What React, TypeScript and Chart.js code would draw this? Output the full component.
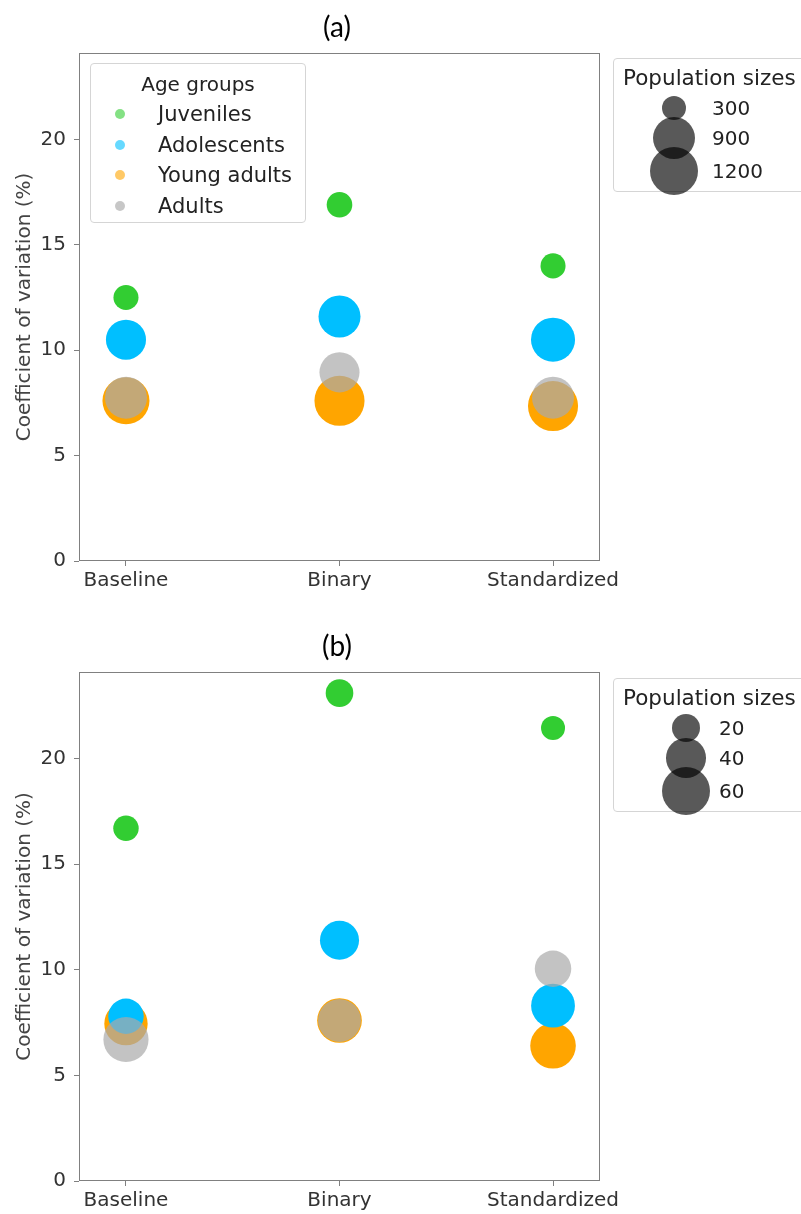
import React, { useEffect, useRef } from "react";
import { Chart, registerables } from "chart.js";
Chart.register(...registerables);

// ---------- data ----------
const methods = ["Baseline", "Binary", "Standardized"];
const ageGroups = ["Juveniles", "Adolescents", "Young adults", "Adults"];
const yTickValues = [0, 5, 10, 15, 20];

// Panel (a): coefficient of variation (%) per method
const cvA_juveniles = [12.5, 16.9, 14.0];
const cvA_adolescents = [10.5, 11.6, 10.5];
const cvA_youngAdults = [7.6, 7.6, 7.35];
const cvA_adults = [7.75, 8.95, 7.75];
// Panel (a): population sizes per method
const popA_juveniles = [320, 335, 320];
const popA_adolescents = [820, 900, 990];
const popA_youngAdults = [1130, 1280, 1280];
const popA_adults = [900, 820, 900];
const sizeLegendA = [300, 900, 1200];

// Panel (b)
const cvB_juveniles = [16.7, 23.1, 21.45];
const cvB_adolescents = [7.8, 11.4, 8.3];
const cvB_youngAdults = [7.45, 7.6, 6.4];
const cvB_adults = [6.7, 7.6, 10.05];
const popB_juveniles = [16.5, 19.5, 14.7];
const popB_adolescents = [32, 39, 49];
const popB_youngAdults = [48, 51, 53];
const popB_adults = [52, 47, 34];
const sizeLegendB = [20, 40, 60];

const groupColors = ["rgb(50,205,50)", "rgb(0,191,255)", "rgb(255,165,0)", "rgba(169,169,169,0.7)"];
const legendColors = ["rgba(50,205,50,0.6)", "rgba(0,191,255,0.6)", "rgba(255,165,0,0.6)", "rgba(169,169,169,0.65)"];
const drawOrder = [3, 1, 2, 0]; // higher drawn first

const FONT = "'DejaVu Sans', sans-serif";

const framePlugin = {
  id: "frame",
  afterDatasetsDraw(chart: any) {
    const { ctx, chartArea } = chart;
    const l = Math.round(chartArea.left) + 0.5;
    const t = Math.round(chartArea.top) + 0.5;
    const r = Math.round(chartArea.right) - 0.5;
    const b = Math.round(chartArea.bottom) - 0.5;
    ctx.save();
    ctx.strokeStyle = "#808080";
    ctx.lineWidth = 1;
    ctx.strokeRect(l, t, r - l, b - t);
    ctx.restore();
  },
};

type PanelCfg = {
  label: string;
  top: number;
  height: number;
  padTop: number;
  xAxisH: number;
  cv: number[][];
  pop: number[][];
  k: number;
  sizeLegend: number[];
  sizeBoxTop: number;
  sizeCircleX: number;
  sizeLabelX: number;
  showAgeLegend: boolean;
};

const panels: PanelCfg[] = [
  {
    label: "(a)",
    top: 0,
    height: 605,
    padTop: 53,
    xAxisH: 44,
    cv: [cvA_juveniles, cvA_adolescents, cvA_youngAdults, cvA_adults],
    pop: [popA_juveniles, popA_adolescents, popA_youngAdults, popA_adults],
    k: 0.7,
    sizeLegend: sizeLegendA,
    sizeBoxTop: 58,
    sizeCircleX: 60,
    sizeLabelX: 98,
    showAgeLegend: true,
  },
  {
    label: "(b)",
    top: 619,
    height: 595,
    padTop: 53,
    xAxisH: 33,
    cv: [cvB_juveniles, cvB_adolescents, cvB_youngAdults, cvB_adults],
    pop: [popB_juveniles, popB_adolescents, popB_youngAdults, popB_adults],
    k: 3.13,
    sizeLegend: sizeLegendB,
    sizeBoxTop: 59,
    sizeCircleX: 72,
    sizeLabelX: 105,
    showAgeLegend: false,
  },
];

function Panel({ cfg }: { cfg: PanelCfg }) {
  const ref = useRef<HTMLCanvasElement | null>(null);
  useEffect(() => {
    if (!ref.current) return;
    const datasets = ageGroups.map((g, gi) => ({
      label: g,
      data: methods.map((_, mi) => ({
        x: mi,
        y: cfg.cv[gi][mi],
        r: cfg.k * Math.sqrt(cfg.pop[gi][mi]),
      })),
      backgroundColor: groupColors[gi],
      borderWidth: 0,
      hoverRadius: 0,
      order: drawOrder[gi],
    }));
    const chart = new Chart(ref.current, {
      type: "bubble",
      data: { datasets },
      plugins: [framePlugin],
      options: {
        animation: false,
        responsive: false,
        events: [],
        layout: { padding: { top: cfg.padTop, left: 0, right: 201, bottom: 0 } },
        plugins: { legend: { display: false }, tooltip: { enabled: false }, title: { display: false } },
        scales: {
          x: {
            type: "linear",
            min: -0.22,
            max: 2.22,
            afterBuildTicks: (s: any) => {
              s.ticks = methods.map((_, i) => ({ value: i }));
            },
            afterFit: (s: any) => {
              s.height = cfg.xAxisH;
            },
            ticks: {
              callback: (v: any) => methods[v as number] ?? "",
              font: { family: FONT, size: 20 },
              color: "#333",
              padding: 3,
              maxRotation: 0,
              autoSkip: false,
            },
            grid: { display: true, drawOnChartArea: false, drawTicks: true, tickLength: 5, color: "#808080" },
            border: { display: false },
          },
          y: {
            type: "linear",
            min: 0,
            max: 24.1,
            afterBuildTicks: (s: any) => {
              s.ticks = yTickValues.map((v) => ({ value: v }));
            },
            afterFit: (s: any) => {
              s.width = 79;
            },
            ticks: { font: { family: FONT, size: 20 }, color: "#333", padding: 8 },
            grid: { display: true, drawOnChartArea: false, drawTicks: true, tickLength: 5, color: "#808080" },
            border: { display: false },
            title: {
              display: true,
              text: "Coefficient of variation (%)",
              font: { family: FONT, size: 20 },
              color: "#444",
              padding: { top: 13, bottom: 0 },
            },
          },
        },
      },
    } as any);
    return () => chart.destroy();
  }, []);

  return (
    <div style={{ position: "absolute", left: 0, top: cfg.top, width: 801, height: cfg.height }}>
      <canvas ref={ref} width={801} height={cfg.height} style={{ display: "block", width: 801, height: cfg.height }} />
      <div
        style={{
          position: "absolute",
          left: 0,
          top: 10,
          width: 674,
          textAlign: "center",
          fontFamily: "Lato, 'Open Sans', sans-serif",
          fontSize: 28,
          lineHeight: "32px",
          color: "#000",
        }}
      >
        {cfg.label}
      </div>
      {cfg.showAgeLegend && (
        <div
          style={{
            position: "absolute",
            left: 90,
            top: 63,
            width: 216,
            height: 160,
            boxSizing: "border-box",
            border: "1px solid #d5d5d5",
            borderRadius: 4,
            background: "rgba(255,255,255,0.8)",
            fontFamily: FONT,
            fontSize: 21,
            color: "#222",
          }}
        >
          <div style={{ position: "absolute", left: 0, width: 214, top: 8, textAlign: "center", lineHeight: "24px", fontSize: 20 }}>
            Age groups
          </div>
          {ageGroups.map((g, i) => {
            const cy = 50 + i * 30.5;
            return (
              <React.Fragment key={g}>
                <div
                  style={{
                    position: "absolute",
                    left: 29 - 5,
                    top: cy - 5,
                    width: 10,
                    height: 10,
                    borderRadius: "50%",
                    background: legendColors[i],
                  }}
                />
                <div style={{ position: "absolute", left: 67, top: cy - 12, lineHeight: "24px", whiteSpace: "nowrap" }}>
                  {g}
                </div>
              </React.Fragment>
            );
          })}
        </div>
      )}
      <div
        style={{
          position: "absolute",
          left: 613,
          top: cfg.sizeBoxTop,
          width: 200,
          height: 134,
          boxSizing: "border-box",
          border: "1px solid #d5d5d5",
          borderRadius: 4,
          background: "rgba(255,255,255,0.8)",
          fontFamily: FONT,
          fontSize: 20,
          color: "#222",
        }}
      >
        <div style={{ position: "absolute", left: 9, top: 6, lineHeight: "26px", whiteSpace: "nowrap", fontSize: 21.5 }}>
          Population sizes
        </div>
        {cfg.sizeLegend.map((s, i) => {
          const cy = [49, 79, 112][i];
          const r = cfg.k * Math.sqrt(s);
          return (
            <React.Fragment key={s}>
              <div
                style={{
                  position: "absolute",
                  left: cfg.sizeCircleX - r,
                  top: cy - r,
                  width: 2 * r,
                  height: 2 * r,
                  borderRadius: "50%",
                  background: "rgba(0,0,0,0.65)",
                }}
              />
              <div style={{ position: "absolute", left: cfg.sizeLabelX, top: cy - 12, lineHeight: "24px" }}>{s}</div>
            </React.Fragment>
          );
        })}
      </div>
    </div>
  );
}

export default function App() {
  return (
    <div
      style={{
        position: "absolute",
        left: 0,
        top: 0,
        width: 801,
        height: 1214,
        overflow: "hidden",
        background: "#fff",
      }}
    >
      {panels.map((p) => (
        <Panel key={p.label} cfg={p} />
      ))}
    </div>
  );
}
